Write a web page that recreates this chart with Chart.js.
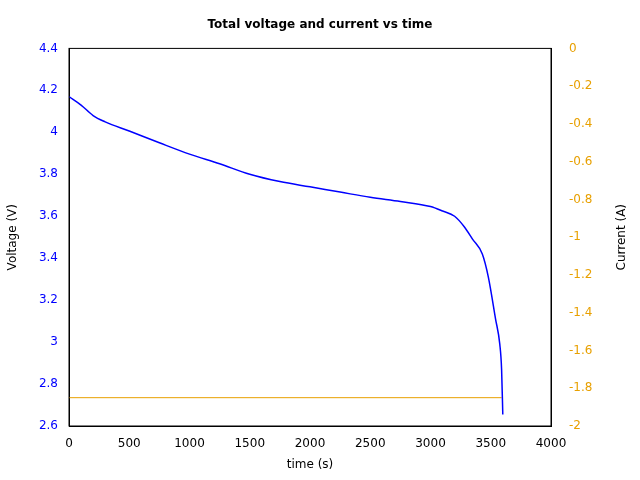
<!DOCTYPE html>
<html>
<head>
<script src="https://cdn.jsdelivr.net/npm/chart.js@4"></script>
<style>body{margin:0;background:#fff}#c{width:640px;height:480px}</style>
</head>
<body>
<div id="c"><canvas id="chart" width="640" height="480"></canvas></div>
<script>
const timeS = [0, 100, 200, 300, 500, 750, 1000, 1250, 1500, 1750, 2000, 2250, 2500, 2750, 3000, 3100, 3200, 3280, 3350, 3430, 3480, 3540, 3575, 3590, 3600];
const voltage = [4.17, 4.13, 4.08, 4.05, 4.006, 3.95, 3.896, 3.85, 3.80, 3.765, 3.74, 3.715, 3.69, 3.67, 3.646, 3.625, 3.60, 3.55, 3.49, 3.42, 3.31, 3.11, 2.99, 2.87, 2.655];
const currentTime = [0, 3590];
const current = [-1.85, -1.85];

const pts = (xs, ys) => xs.map((x, i) => ({x: x, y: ys[i]}));
const font = {family: 'DejaVu Sans', size: 12};

new Chart(document.getElementById('chart'), {
    type: 'line',
    data: {
        datasets: [{
            data: pts(timeS, voltage),
            borderColor: '#0000ff',
            borderWidth: 1.5,
            pointRadius: 0,
            cubicInterpolationMode: 'monotone',
            yAxisID: 'y'
        }, {
            data: pts(currentTime, current),
            borderColor: '#e8a000',
            borderWidth: 1,
            pointRadius: 0,
            yAxisID: 'y1'
        }]
    },
    options: {
        responsive: false,
        animation: false,
        layout: {padding: {left: 2, right: 2, top: 0, bottom: 4}},
        plugins: {
            legend: {display: false},
            title: {display: true, text: 'Total voltage and current vs time', color: '#000', font: {family: 'DejaVu Sans', size: 12, weight: 'bold'}, padding: {top: 18, bottom: 16}}
        },
        scales: {
            x: {
                type: 'linear', min: 0, max: 4000,
                ticks: {stepSize: 500, color: '#000', font: font, callback: v => String(v)},
                grid: {display: false},
                border: {color: '#000'},
                title: {display: true, text: 'time (s)', color: '#000', font: font, padding: {top: 8}},
                afterFit: s => { s.height = 50; }
            },
            y: {
                position: 'left', min: 2.6, max: 4.4,
                ticks: {stepSize: 0.2, color: '#0000ff', font: font, callback: v => +v.toFixed(1)},
                grid: {display: false},
                border: {color: '#000'},
                title: {display: true, text: 'Voltage (V)', color: '#000', font: font},
                afterFit: s => { s.width = 67; }
            },
            y1: {
                position: 'right', min: -2, max: 0,
                ticks: {stepSize: 0.2, color: '#e8a000', font: font, padding: 10, callback: v => +v.toFixed(1)},
                grid: {display: false},
                border: {color: '#000'},
                afterFit: s => { s.width = 87; }
            }
        }
    },
    plugins: [{
        id: 'frame',
        afterDraw(chart) {
            const a = chart.chartArea, c = chart.ctx;
            c.save(); c.strokeStyle = '#000'; c.lineWidth = 1;
            c.strokeRect(a.left, a.top, a.right - a.left, a.bottom - a.top);
            c.translate(622, (a.top + a.bottom) / 2);
            c.rotate(-Math.PI / 2);
            c.fillStyle = '#000'; c.font = '12px "DejaVu Sans"';
            c.textAlign = 'center'; c.textBaseline = 'middle';
            c.fillText('Current (A)', 0, 0);
            c.restore();
        }
    }]
});
</script>
</body>
</html>
